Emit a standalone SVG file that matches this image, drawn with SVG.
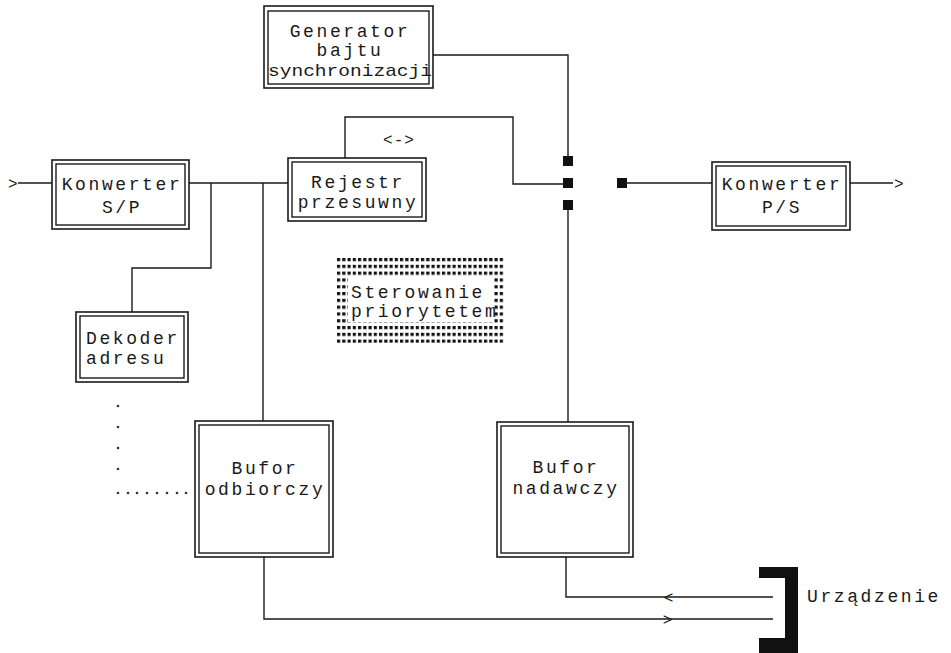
<svg xmlns="http://www.w3.org/2000/svg" width="951" height="653" viewBox="0 0 951 653">
<defs>
<style>
.o{fill:none;stroke:#1a1a1a;stroke-width:1.6}
.i{fill:#fff;stroke:#1a1a1a;stroke-width:1.4}
.t{font-family:"Liberation Mono","Courier New",monospace;font-size:18px;letter-spacing:2.6px;fill:#1a1a1a}
.c{text-anchor:middle}
.s{font-size:16px;letter-spacing:1px}
.w{fill:none;stroke:#1a1a1a;stroke-width:1.4}
.sq{fill:#111}
.d{fill:#333}
</style>
<pattern id="dots" x="337" y="258" width="5.25" height="6.8" patternUnits="userSpaceOnUse">
<rect width="3.2" height="3.2" fill="#111"/>
</pattern>
</defs>
<rect width="951" height="653" fill="#fff"/>

<g id="connectors">
<text class="t s" x="8" y="189">&gt;</text>
<path class="w" d="M18,183 H52"/>
<path class="w" d="M189,183 H288"/>
<path class="w" d="M211,183 V268 H132 V312"/>
<path class="w" d="M263,183 V421"/>
<path class="w" d="M345,158 V117 H513 V184 H563"/>
<path class="w" d="M433,55 H568 V157"/>
<path class="w" d="M568,210 V422"/>
<rect class="sq" x="563" y="156" width="10" height="10"/>
<rect class="sq" x="563" y="178" width="10" height="10"/>
<rect class="sq" x="563" y="200" width="10" height="10"/>
<rect class="sq" x="617" y="178" width="10" height="10"/>
<path class="w" d="M626,183 H712"/>
<path class="w" d="M850,183 H893"/>
<text class="t s" x="894" y="189">&gt;</text>
<path class="w" d="M264,557 V619 H773"/>
<path class="w" d="M566,557 V597 H773"/>
<text class="t s c" x="669" y="603">&lt;</text>
<text class="t s c" x="668" y="625">&gt;</text>
<text class="t s c" x="399" y="145">&lt;-&gt;</text>
<g class="d">
<circle cx="118" cy="406" r="1.3"/><circle cx="118" cy="427" r="1.3"/><circle cx="118" cy="448" r="1.3"/><circle cx="118" cy="469" r="1.3"/>
<circle cx="118" cy="493" r="1.3"/><circle cx="128" cy="493" r="1.3"/><circle cx="137" cy="493" r="1.3"/><circle cx="147" cy="493" r="1.3"/><circle cx="157" cy="493" r="1.3"/><circle cx="167" cy="493" r="1.3"/><circle cx="177" cy="493" r="1.3"/><circle cx="186" cy="493" r="1.3"/>
</g>
</g>

<g id="generator">
<rect class="o" x="264" y="6" width="169" height="82"/>
<rect class="i" x="268" y="11" width="161" height="73"/>
<text class="t c" x="350" y="37">Generator</text>
<text class="t c" x="350" y="56">bajtu</text>
<text class="t" x="268" y="76" style="letter-spacing:0;font-size:17px" textLength="164" lengthAdjust="spacingAndGlyphs">synchronizacji</text>
</g>

<g id="konwerter-sp">
<rect class="o" x="52" y="160" width="137" height="69"/>
<rect class="i" x="56" y="164" width="129" height="61"/>
<text class="t c" x="122" y="190">Konwerter</text>
<text class="t c" x="122" y="213">S/P</text>
</g>

<g id="rejestr">
<rect class="o" x="288" y="158" width="138" height="63"/>
<rect class="i" x="292" y="162" width="130" height="55"/>
<text class="t c" x="358" y="188">Rejestr</text>
<text class="t c" x="358" y="208">przesuwny</text>
</g>

<g id="konwerter-ps">
<rect class="o" x="712" y="162" width="138" height="68"/>
<rect class="i" x="716" y="166" width="130" height="60"/>
<text class="t c" x="782" y="190">Konwerter</text>
<text class="t c" x="782" y="213">P/S</text>
</g>

<g id="sterowanie">
<rect x="337" y="258" width="167" height="85" fill="url(#dots)"/>
<rect x="348" y="278" width="146" height="44" fill="#fff"/>
<text class="t" x="351" y="298">Sterowanie</text>
<text class="t" x="351" y="317">priorytetem</text>
</g>

<g id="dekoder">
<rect class="o" x="76" y="312" width="112" height="70"/>
<rect class="i" x="80" y="316" width="104" height="62"/>
<text class="t" x="86" y="344">Dekoder</text>
<text class="t" x="86" y="364">adresu</text>
</g>

<g id="bufor-odbiorczy">
<rect class="o" x="195" y="421" width="138" height="136"/>
<rect class="i" x="199" y="425" width="130" height="128"/>
<text class="t c" x="265" y="474">Bufor</text>
<text class="t c" x="265" y="495">odbiorczy</text>
</g>

<g id="bufor-nadawczy">
<rect class="o" x="497" y="422" width="136" height="135"/>
<rect class="i" x="501" y="426" width="128" height="127"/>
<text class="t c" x="566" y="473">Bufor</text>
<text class="t c" x="566" y="494">nadawczy</text>
</g>

<g id="urzadzenie">
<path d="M759,567 H798 V653 H759 V638 H785 V578 H759 Z" fill="#111"/>
<text class="t" x="807" y="602">Urządzenie</text>
</g>
</svg>
